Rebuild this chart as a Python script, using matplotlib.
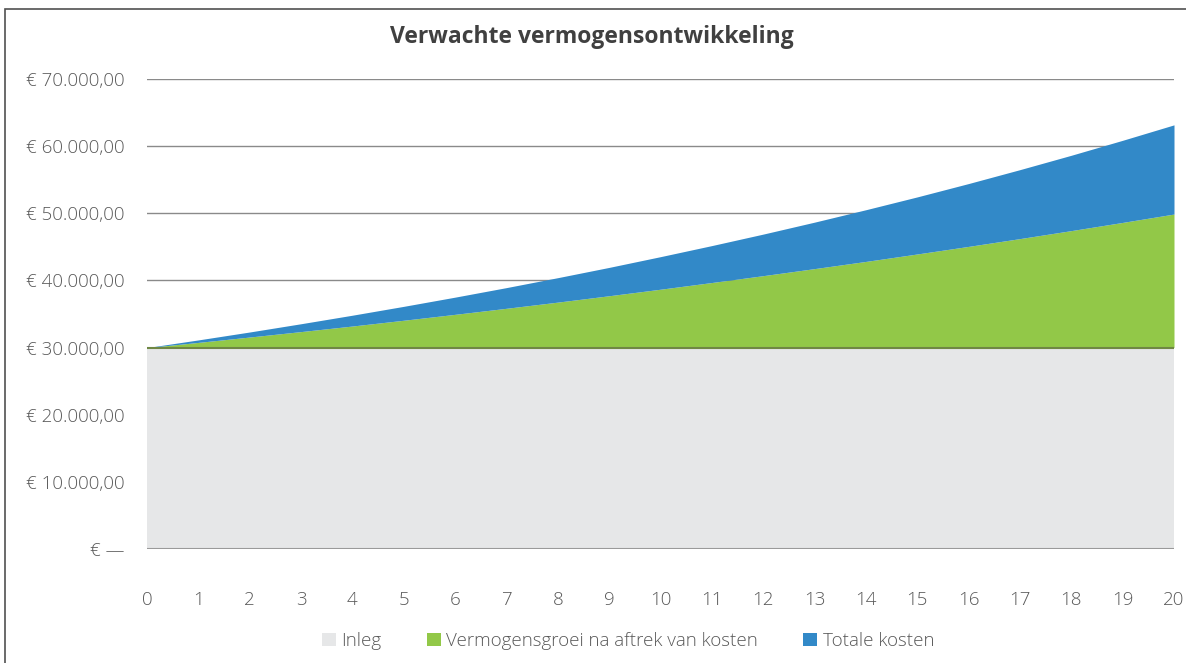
import matplotlib
matplotlib.use("Agg")
import matplotlib.pyplot as plt
from matplotlib.patches import Rectangle, Patch

plt.rcParams['font.family'] = ['Open Sans', 'DejaVu Sans']

# data
jaren = list(range(0, 21))
inleg = [30000] * 21
netto = [30000, 30770, 31570, 32380, 33210, 34070, 34950, 35850, 36770, 37720,
         38690, 39690, 40710, 41760, 42830, 43940, 45070, 46230, 47420, 48640, 49890]
bruto = [30000, 31140, 32320, 33550, 34820, 36140, 37510, 38930, 40410, 41940,
         43540, 45190, 46900, 48680, 50530, 52440, 54430, 56500, 58640, 60870, 63170]

y_ticks = [0, 10000, 20000, 30000, 40000, 50000, 60000, 70000]
y_labels = ['€ —', '€ 10.000,00', '€ 20.000,00', '€ 30.000,00',
            '€ 40.000,00', '€ 50.000,00', '€ 60.000,00', '€ 70.000,00']

c_inleg = '#e6e7e8'
c_groei = '#92c848'
c_kosten = '#3289c8'
c_text = '#595959'

fig = plt.figure(figsize=(11.86, 6.63), dpi=100)
ax = fig.add_axes([147 / 1186, 1 - 549 / 663, (1174 - 147) / 1186, (549 - 79) / 663])

# gridlines behind the areas
for v in y_ticks[1:]:
    ax.axhline(v, color='#8a8a8a', lw=1.0, zorder=0)

ax.fill_between(jaren, 0, inleg, color=c_inleg, lw=0, zorder=1)
ax.fill_between(jaren, inleg, netto, color=c_groei, lw=0, zorder=1)
ax.fill_between(jaren, netto, bruto, color=c_kosten, lw=0, zorder=1)
ax.plot(jaren, inleg, color='#6f8744', lw=1.5, zorder=2)
ax.axhline(0, color='#9a9a9a', lw=1.5, zorder=2)

ax.set_xlim(0, 20)
ax.set_ylim(0, 70000)
ax.set_xticks(jaren)
ax.set_yticks(y_ticks)
ax.set_yticklabels(y_labels)
for s in ax.spines.values():
    s.set_visible(False)
ax.tick_params(axis='both', length=0, labelsize=13.5, labelcolor=c_text)
ax.tick_params(axis='y', pad=16)
ax.tick_params(axis='x', pad=30)
for lab in ax.get_xticklabels() + ax.get_yticklabels():
    lab.set_fontweight('light')

fig.text(592 / 1186, 1 - 37 / 663, 'Verwachte vermogensontwikkeling', ha='center', va='center',
         fontsize=16.5, fontweight='bold', color='#404040')

handles = [Patch(facecolor=c_inleg, label='Inleg'),
           Patch(facecolor=c_groei, label='Vermogensgroei na aftrek van kosten'),
           Patch(facecolor=c_kosten, label='Totale kosten')]
leg = fig.legend(handles=handles, loc='center', bbox_to_anchor=(628 / 1186, 1 - 641 / 663),
                 ncol=3, frameon=False, fontsize=13.5, handlelength=0.75, handleheight=0.75,
                 handletextpad=0.3, columnspacing=2.4)
for t in leg.get_texts():
    t.set_color(c_text)
    t.set_fontweight('light')

# outer frame (only top and left edges visible)
fig.patches.append(Rectangle((5 / 1186, -0.1), 1.2, 1 - 9 / 663 + 0.1, transform=fig.transFigure,
                             fill=False, edgecolor='#505050', lw=1.2))

fig.savefig('out.png', dpi=100)
